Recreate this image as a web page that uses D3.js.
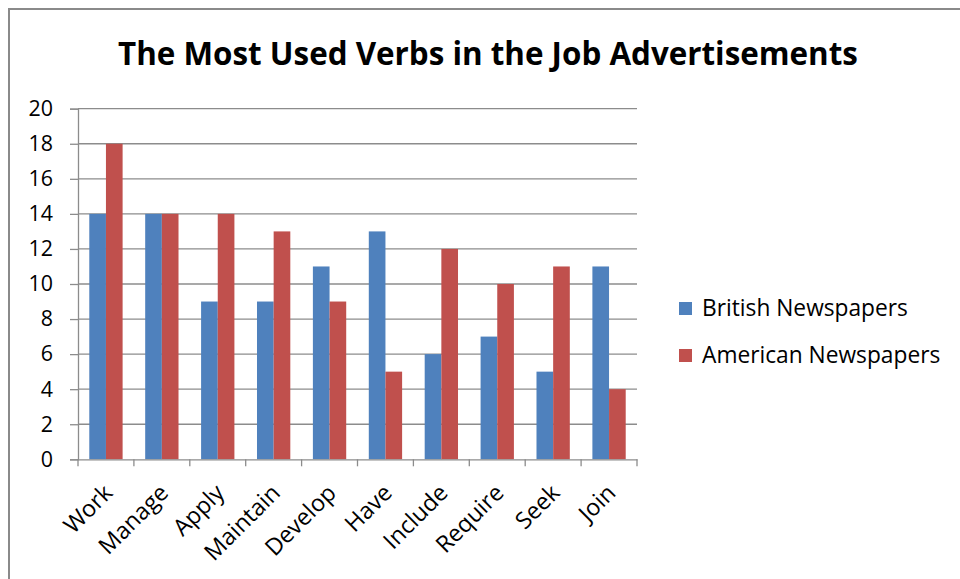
<!DOCTYPE html>
<html>
<head>
<meta charset="utf-8">
<script src="https://cdn.jsdelivr.net/npm/d3@7"></script>
<style>
  html, body { margin: 0; padding: 0; background: #fff; }
  svg { display: block; }
  text { font-family: "Open Sans", Lato, sans-serif; fill: #000; }
</style>
</head>
<body>
<svg id="chart" width="960" height="579"></svg>
<script>
// Verb counts per newspaper group
const verbs = ["Work", "Manage", "Apply", "Maintain", "Develop", "Have", "Include", "Require", "Seek", "Join"];
const british = [14, 14, 9, 9, 11, 13, 6, 7, 5, 11];
const american = [18, 14, 14, 13, 9, 5, 12, 10, 11, 4];
const seriesNames = ["British Newspapers", "American Newspapers"];
const seriesColors = ["#4F81BD", "#C0504D"];
const yTicks = [0, 2, 4, 6, 8, 10, 12, 14, 16, 18, 20];
const chartTitle = "The Most Used Verbs in the Job Advertisements";

const svg = d3.select("#chart");
const W = 960, H = 579;

// scale a text selection's font so that a reference node spans the given width
function fitFont(sel, refNode, width) {
  const base = parseFloat(d3.select(refNode).attr("font-size"));
  const len = refNode.getComputedTextLength();
  const size = base * width / len;
  sel.attr("font-size", size.toFixed(2));
  return size;
}

// chart frame (left and top edges visible)
svg.append("rect")
  .attr("x", 9).attr("y", 9)
  .attr("width", W + 10).attr("height", H + 10)
  .attr("fill", "#fff")
  .attr("stroke", "#8a8a8a")
  .attr("stroke-width", 2);

const plot = { left: 78, right: 637, top: 108.7, bottom: 459.3 };

const x = d3.scaleBand().domain(verbs).range([plot.left, plot.right]).padding(0);
const barW = x.bandwidth() * 0.298;
const xs = d3.scaleBand().domain(seriesNames).range([0, barW * 2]);
const y = d3.scaleLinear().domain([0, 20]).range([plot.bottom, plot.top]);

const gridColor = "#8c8c8c";

// value axis with tick marks
const yAxis = d3.axisLeft(y).tickValues(yTicks).tickSize(8).tickPadding(17).tickFormat(d3.format("d"));
const gy = svg.append("g").attr("transform", `translate(${plot.left},0)`).call(yAxis);
gy.select(".domain").attr("stroke", gridColor).attr("stroke-width", 1.3);
gy.selectAll(".tick line").attr("stroke", gridColor).attr("stroke-width", 1.3);
const yLabels = gy.selectAll(".tick text")
  .attr("font-size", 20).attr("font-family", "'Open Sans', sans-serif").attr("fill", "#000");
fitFont(yLabels, yLabels.filter(d => d === 20).node(), 24.5);

// horizontal gridlines
svg.append("g").selectAll("line")
  .data(yTicks.filter(d => d > 0))
  .join("line")
  .attr("x1", plot.left).attr("x2", plot.right)
  .attr("y1", d => y(d)).attr("y2", d => y(d))
  .attr("stroke", gridColor).attr("stroke-width", 1.3);

// bars
const rows = verbs.map((v, i) => ({ verb: v, values: [british[i], american[i]] }));
const groups = svg.append("g").selectAll("g")
  .data(rows)
  .join("g")
  .attr("transform", d => `translate(${x(d.verb) + (x.bandwidth() - barW * 2) / 2},0)`);

groups.selectAll("rect")
  .data(d => d.values.map((v, k) => ({ name: seriesNames[k], value: v, k })))
  .join("rect")
  .attr("x", d => xs(d.name))
  .attr("width", xs.bandwidth())
  .attr("y", d => y(d.value))
  .attr("height", d => y(0) - y(d.value))
  .attr("fill", d => seriesColors[d.k]);

// category axis
const xAxis = d3.axisBottom(x).tickSize(0).tickFormat("");
const gx = svg.append("g").attr("transform", `translate(0,${plot.bottom})`).call(xAxis);
gx.select(".domain").attr("stroke", gridColor).attr("stroke-width", 1.3);

// category separators on the axis
const bounds = verbs.map(v => x(v)).concat([plot.right]);
svg.append("g").selectAll("line")
  .data(bounds)
  .join("line")
  .attr("x1", d => d).attr("x2", d => d)
  .attr("y1", plot.bottom).attr("y2", plot.bottom + 7)
  .attr("stroke", gridColor).attr("stroke-width", 1.3);

// rotated category labels
const xLabels = svg.append("g").selectAll("text")
  .data(verbs)
  .join("text")
  .attr("transform", d => `translate(${x(d) + x.bandwidth() / 2 + 8},${plot.bottom + 35}) rotate(-45)`)
  .attr("text-anchor", "end")
  .attr("font-size", 20)
  .text(d => d);
fitFont(xLabels, xLabels.filter(d => d === "Manage").node(), 87);

// title
const title = svg.append("text")
  .attr("x", 488).attr("y", 65)
  .attr("text-anchor", "middle")
  .attr("font-size", 30)
  .attr("font-weight", "bold")
  .text(chartTitle);
fitFont(title, title.node(), 740);

// legend
const legend = svg.append("g").selectAll("g")
  .data(seriesNames)
  .join("g")
  .attr("transform", (d, i) => `translate(679,${302 + i * 47})`);
legend.append("rect")
  .attr("width", 13).attr("height", 13)
  .attr("fill", (d, i) => seriesColors[i]);
const legendText = legend.append("text")
  .attr("x", 23).attr("y", 14)
  .attr("font-size", 20)
  .text(d => d);
fitFont(legendText, legendText.node(), 206);
</script>
</body>
</html>
